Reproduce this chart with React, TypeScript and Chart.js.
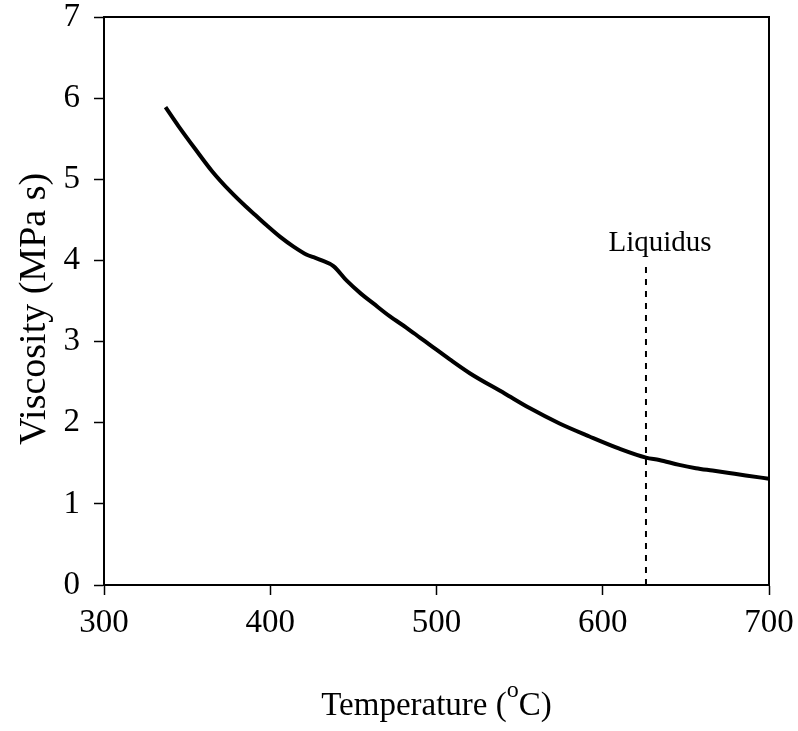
import React, { useEffect, useRef } from "react";
import { Chart, registerables } from "chart.js";

Chart.register(...registerables);

// ---- data ----
const temperature = [337, 345, 355, 365, 376, 385, 391, 398, 406, 414, 422, 426, 431, 438, 446, 454, 462, 472, 482, 490, 496, 508, 520, 541, 556, 574, 592, 610, 626, 634, 646, 656, 666, 676, 686, 700];
const viscosity = [5.89, 5.65, 5.37, 5.10, 4.85, 4.67, 4.56, 4.43, 4.29, 4.17, 4.07, 4.04, 4.00, 3.93, 3.75, 3.60, 3.47, 3.31, 3.17, 3.05, 2.96, 2.78, 2.61, 2.36, 2.18, 1.99, 1.83, 1.68, 1.57, 1.54, 1.48, 1.44, 1.41, 1.38, 1.35, 1.31];

const liquidusTemperature = 626;
const liquidusRange = [0, 3.93];
const liquidusLabel = "Liquidus";

const xRange = [300, 700];
const xStep = 100;
const yRange = [0, 7];
const yStep = 1;

const xTitleParts = ["Temperature (", "o", "C)"];
const yTitle = "Viscosity (MPa s)";

const FONT = "'Liberation Serif', 'Times New Roman', serif";

const overlay = {
  id: "overlay",
  afterDraw(chart: any) {
    const { ctx, chartArea: a, scales } = chart;
    ctx.save();
    ctx.strokeStyle = "#000";
    ctx.lineWidth = 2;
    ctx.strokeRect(a.left, a.top, a.right - a.left, a.bottom - a.top);

    ctx.fillStyle = "#000";
    // Liquidus label
    const lx = scales.x.getPixelForValue(liquidusTemperature);
    const ly = scales.y.getPixelForValue(liquidusRange[1]);
    ctx.font = `29px ${FONT}`;
    ctx.textAlign = "center";
    ctx.textBaseline = "alphabetic";
    ctx.fillText(liquidusLabel, lx + 14, ly - 15);

    // X title with superscript
    const f1 = `33px ${FONT}`;
    const f2 = `24px ${FONT}`;
    ctx.font = f1;
    const w1 = ctx.measureText(xTitleParts[0]).width;
    const w3 = ctx.measureText(xTitleParts[2]).width;
    ctx.font = f2;
    const w2 = ctx.measureText(xTitleParts[1]).width;
    let x = (a.left + a.right) / 2 - (w1 + w2 + w3) / 2;
    const by = a.bottom + 130;
    ctx.textAlign = "left";
    ctx.font = f1;
    ctx.fillText(xTitleParts[0], x, by);
    x += w1;
    ctx.font = f2;
    ctx.fillText(xTitleParts[1], x, by - 18);
    x += w2;
    ctx.font = f1;
    ctx.fillText(xTitleParts[2], x, by);

    // Y title
    ctx.translate(a.left - 59, (a.top + a.bottom) / 2 + 8);
    ctx.rotate(-Math.PI / 2);
    ctx.font = `38px ${FONT}`;
    ctx.textAlign = "center";
    ctx.fillText(yTitle, 0, 0);
    ctx.restore();
  },
};

export default function App() {
  const ref = useRef<HTMLCanvasElement | null>(null);

  useEffect(() => {
    if (!ref.current) return;
    const curve = temperature.map((t, i) => ({ x: t, y: viscosity[i] }));
    const liquidus = liquidusRange.map((v) => ({ x: liquidusTemperature, y: v }));
    const chart = new Chart(ref.current, {
      type: "line",
      data: {
        datasets: [
          {
            data: curve,
            borderColor: "#000",
            borderWidth: 4,
            pointRadius: 0,
            fill: false,
            cubicInterpolationMode: "monotone",
          },
          {
            data: liquidus,
            borderColor: "#000",
            borderWidth: 2,
            borderDash: [6, 6],
            pointRadius: 0,
            fill: false,
          },
        ],
      },
      options: {
        animation: false,
        responsive: false,
        devicePixelRatio: 1,
        layout: { padding: { top: 17, right: 29, left: 0, bottom: 0 } },
        plugins: { legend: { display: false }, tooltip: { enabled: false } },
        scales: {
          x: {
            type: "linear",
            min: xRange[0],
            max: xRange[1],
            afterFit: (s: any) => {
              s.height = 146;
              s.paddingLeft = 0;
              s.paddingRight = 0;
            },
            ticks: {
              stepSize: xStep,
              color: "#000",
              padding: 9,
              maxRotation: 0,
              font: { family: FONT, size: 33, lineHeight: 1.2 },
            },
            grid: {
              drawOnChartArea: false,
              drawTicks: true,
              tickLength: 10,
              tickColor: "#000",
              tickWidth: 1.5,
              color: "#000",
            },
            border: { display: true, color: "#000", width: 2 },
          },
          y: {
            type: "linear",
            min: yRange[0],
            max: yRange[1],
            afterFit: (s: any) => {
              s.width = 104;
              s.paddingTop = 0;
              s.paddingBottom = 0;
            },
            ticks: {
              stepSize: yStep,
              color: "#000",
              padding: 14,
              font: { family: FONT, size: 33, lineHeight: 1 },
            },
            grid: {
              drawOnChartArea: false,
              drawTicks: true,
              tickLength: 10,
              tickColor: "#000",
              tickWidth: 1.5,
              color: "#000",
            },
            border: { display: true, color: "#000", width: 2 },
          },
        },
      },
      plugins: [overlay],
    });
    return () => chart.destroy();
  }, []);

  return (
    <canvas
      ref={ref}
      width={798}
      height={731}
      style={{ position: "fixed", left: 0, top: 0, background: "#fff" }}
    />
  );
}
